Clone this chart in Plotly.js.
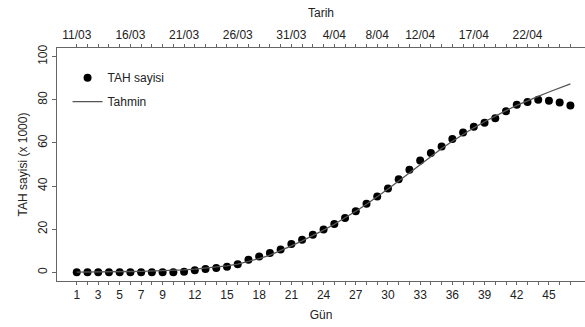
<!DOCTYPE html>
<html>
<head>
<meta charset="utf-8">
<script src="https://cdn.plot.ly/plotly-3.0.1.min.js"></script>
<style>html,body{margin:0;padding:0;background:#fff;}#chart{width:585px;height:327px;}</style>
</head>
<body>
<div id="chart"></div>
<script>
const days = Array.from({length: 47}, (_, i) => i + 1);
const tahSayisi = [0.0,0.0,0.0,0.0,0.0,0.0,0.0,0.0,0.0,0.1,
  0.3,1.0,1.6,2.0,2.6,3.8,5.8,7.4,9.0,10.6,
  13.1,15.1,17.4,19.9,22.4,25.2,28.3,31.8,35.2,38.9,
  43.2,47.6,51.9,55.3,58.4,61.8,64.8,67.5,69.4,71.4,
  74.7,77.7,79.0,80.0,79.6,78.7,77.4];
const tahmin = [0.1,0.1,0.2,0.2,0.3,0.4,0.5,0.6,0.8,1.0,
  1.2,1.5,1.9,2.4,3.0,3.8,5.0,6.4,8.0,10.0,
  12.3,14.6,17.0,19.6,22.3,25.2,28.3,31.6,35.0,38.6,
  42.4,46.2,50.0,53.8,57.4,60.8,64.0,67.0,69.8,72.5,
  75.0,77.4,79.6,81.6,83.6,85.6,87.4];
const bottomLabelDays = [1,3,5,7,9,12,15,18,21,24,27,30,33,36,39,42,45];
const topLabelDays = [1,6,11,16,21,25,29,33,38,43];
const topLabels = ["11/03","16/03","21/03","26/03","31/03","4/04","8/04","12/04","17/04","22/04"];
const yTicks = [0,20,40,60,80,100];

const bottomText = days.map(d => bottomLabelDays.includes(d) ? String(d) : "");
const topText = days.map(d => { const k = topLabelDays.indexOf(d); return k >= 0 ? topLabels[k] : ""; });

const font = {family: "Liberation Sans, Arial, sans-serif", size: 12, color: "#222"};
const xr = [-0.84, 48.36];

const data = [
  {x: days, y: tahSayisi, type: "scatter", mode: "markers", name: "TAH sayisi", legendgroup: "a",
   marker: {color: "#000", size: 8}},
  {x: days, y: tahmin, type: "scatter", mode: "lines", name: "Tahmin", legendgroup: "b",
   line: {color: "#555", width: 1.3}},
  {x: days, y: tahmin, type: "scatter", mode: "none", xaxis: "x2", showlegend: false, hoverinfo: "skip"}
];

const layout = {
  width: 585, height: 327,
  margin: {l: 57, r: 0, t: 48, b: 46},
  paper_bgcolor: "#fff", plot_bgcolor: "#fff",
  font: font,
  showlegend: true,
  legend: {x: 0.02, y: 0.935, xanchor: "left", yanchor: "top", bgcolor: "rgba(0,0,0,0)",
           font: {family: font.family, size: 12, color: "#222"}, tracegroupgap: 5},
  xaxis: {range: xr, tickmode: "array", tickvals: days, ticktext: bottomText,
          ticks: "outside", ticklen: 3, tickcolor: "#666", showgrid: false, zeroline: false,
          showline: true, linecolor: "#666", linewidth: 1,
          title: {text: "Gün", font: {family: font.family, size: 12, color: "#222"}, standoff: 9},
          tickfont: {family: font.family, size: 12, color: "#222"}},
  xaxis2: {range: xr, overlaying: "x", side: "top", tickmode: "array", tickvals: days, ticktext: topText,
           ticks: "outside", ticklen: 3, tickcolor: "#666", showgrid: false, zeroline: false,
           showline: true, linecolor: "#666", linewidth: 1, ticklabelstandoff: 0,
           title: {text: "Tarih", font: {family: font.family, size: 12, color: "#222"}, standoff: 8},
           tickfont: {family: font.family, size: 12, color: "#222"}},
  yaxis: {range: [-4, 104], tickmode: "array", tickvals: yTicks, tickangle: -90,
          ticks: "outside", ticklen: 4, tickcolor: "#666", showgrid: false, zeroline: false,
          showline: true, linecolor: "#666", linewidth: 1,
          title: {text: "TAH sayisi (x 1000)", font: {family: font.family, size: 12, color: "#222"}, standoff: 6},
          tickfont: {family: font.family, size: 12, color: "#222"}}
};

Plotly.newPlot("chart", data, layout, {displayModeBar: false, staticPlot: true});
</script>
</body>
</html>
